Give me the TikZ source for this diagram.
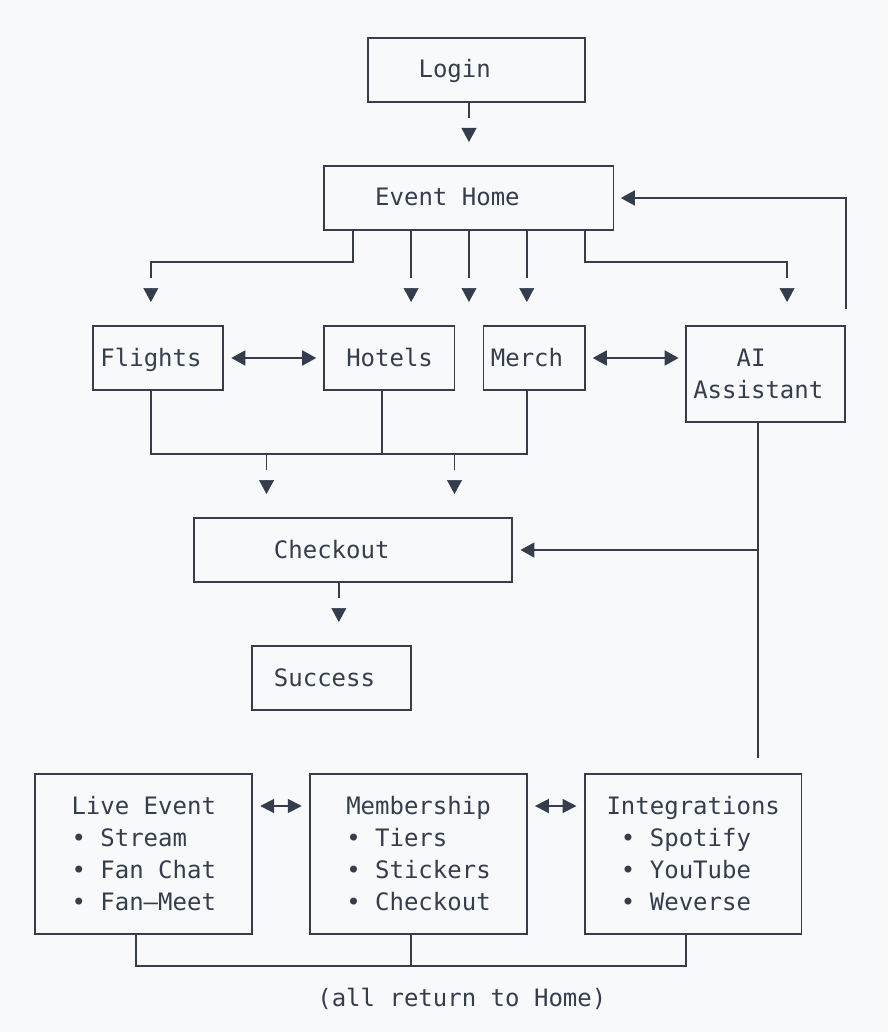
\documentclass[tikz,border=0pt]{standalone}
\usepackage{fontspec}
\newfontfamily\mono{DejaVu Sans Mono}
\usetikzlibrary{fit,calc,arrows.meta}
\definecolor{ink}{HTML}{353D4D}
\definecolor{bgc}{HTML}{F8F9FB}
\begin{document}
\begin{tikzpicture}[x=14.46pt,y=-32pt,
  box/.style={draw=ink,line width=1.8pt,inner sep=0pt},
  txt/.style={anchor=base west,inner sep=0pt,text=ink,font=\mono\fontsize{24}{32}\selectfont},
  wire/.style={draw=ink,line width=1.8pt},
  downtip/.style={draw=ink,fill=ink,line width=0.5pt,-{Triangle[length=14pt,width=15pt]}},
  endtip/.style={-{Triangle[length=14pt,width=15pt]}},
  bothtip/.style={{Triangle[length=14pt,width=15pt]}-{Triangle[length=14pt,width=15pt]}},
  smalltip/.style={{Triangle[length=14pt,width=14pt]}-{Triangle[length=14pt,width=14pt]}}]
\fill[bgc] (-6.4315,-0.1875) rectangle (54.979,32.0625);
\useasboundingbox (-6.4315,-0.1875) rectangle (54.979,32.0625);

% boxes
\node[box,fit={(19,1) (34,3)}] (login) {};
\node[box,fit={(16,5) (36,7)}] (home) {};
\node[box,fit={(0,10) (9,12)}] (flights) {};
\node[box,fit={(16,10) (25,12)}] (hotels) {};
\node[box,fit={(27,10) (34,12)}] (merch) {};
\node[box,fit={(41,10) (52,13)}] (ai) {};
\node[box,fit={(7,16) (29,18)}] (checkout) {};
\node[box,fit={(11,20) (22,22)}] (success) {};
\node[box,fit={(-4,24) (11,29)}] (live) {};
\node[box,fit={(15,24) (30,29)}] (member) {};
\node[box,fit={(34,24) (49,29)}] (integ) {};

% texts
\node[txt] (tlogin) at (22.5,2.25) {Login};
\node[txt] (thome) at (19.5,6.25) {Event Home};
\node[txt] (tflights) at (0.5,11.25) {Flights};
\node[txt] (thotels) at (17.5,11.25) {Hotels};
\node[txt] (tmerch) at (27.5,11.25) {Merch};
\node[txt] (tai1) at (44.5,11.25) {AI};
\node[txt] (tai2) at (41.5,12.25) {Assistant};
\node[txt] (tcheckout) at (12.5,17.25) {Checkout};
\node[txt] (tsuccess) at (12.5,21.25) {Success};
\node[txt] (tlive1) at (-1.5,25.25) {Live Event};
\node[txt] (tlive2) at (-1.5,26.25) {• Stream};
\node[txt] (tlive3) at (-1.5,27.25) {• Fan Chat};
\node[txt] (tlive4) at (-1.5,28.25) {• Fan–Meet};
\node[txt] (tmem1) at (17.5,25.25) {Membership};
\node[txt] (tmem2) at (17.5,26.25) {• Tiers};
\node[txt] (tmem3) at (17.5,27.25) {• Stickers};
\node[txt] (tmem4) at (17.5,28.25) {• Checkout};
\node[txt] (tint1) at (35.5,25.25) {Integrations};
\node[txt] (tint2) at (36.5,26.25) {• Spotify};
\node[txt] (tint3) at (36.5,27.25) {• YouTube};
\node[txt] (tint4) at (36.5,28.25) {• Weverse};
\node[txt] (tfoot) at (15.5,31.25) {(all return to Home)};

% Login -> Event Home
\draw[wire] (login.south -| 26,0) -- (26,3.5);
\draw[downtip] (26,3.81) -- (26,4.25) coordinate (a1);

% Event Home branches
\draw[wire] (home.south -| 18,0) -- (18,8) -- (4,8) -- (4,8.5);
\draw[wire] (home.south -| 22,0) -- (22,8.5);
\draw[wire] (home.south -| 26,0) -- (26,8.5);
\draw[wire] (home.south -| 30,0) -- (30,8.5);
\draw[wire] (home.south -| 34,0) -- (34,8) -- (48,8) -- (48,8.5);
\foreach \c in {4,22,26,30,48}
  \draw[downtip] (\c,8.81) -- (\c,9.25);

% AI Assistant back to Event Home
\draw[wire,endtip] ($(ai.north east)+(0,-0.5)$) |- (36.5,0 |- home.east);

% peer links
\draw[wire,bothtip] ($(flights.east)+(0.5,0)$) -- ($(hotels.west)+(-0.5,0)$);
\draw[wire,bothtip] ($(merch.east)+(0.5,0)$) -- (40.5,11);

% bus into checkout
\draw[wire] (flights.south -| 4,0) -- (4,14) -- (30,14) -- (merch.south -| 30,0);
\draw[wire] (hotels.south -| 20,0) -- (20,14);
\draw[wire] (12,14) -- (12,14.5);
\draw[wire] (25,14) -- (25,14.5);
\foreach \c in {12,25}
  \draw[downtip] (\c,14.81) -- (\c,15.25);

% AI down line and branch into checkout
\draw[wire] (ai.south -| 46,0) -- (46,23.5);
\draw[wire,endtip] (46,17) -- ($(checkout.east)+(0.5,0)$);

% Checkout -> Success
\draw[wire] (checkout.south -| 17,0) -- (17,18.5);
\draw[downtip] (17,18.81) -- (17,19.25);

% bottom peers
\draw[wire,smalltip] ($(live.east |- 0,25)+(0.5,0)$) -- ($(member.west |- 0,25)+(-0.5,0)$);
\draw[wire,smalltip] ($(member.east |- 0,25)+(0.5,0)$) -- ($(integ.west |- 0,25)+(-0.5,0)$);

% bottom return bus
\draw[wire] (live.south -| 3,0) -- (3,30) -- (41,30) -- (integ.south -| 41,0);
\draw[wire] (member.south -| 22,0) -- (22,30);
\end{tikzpicture}
\end{document}
